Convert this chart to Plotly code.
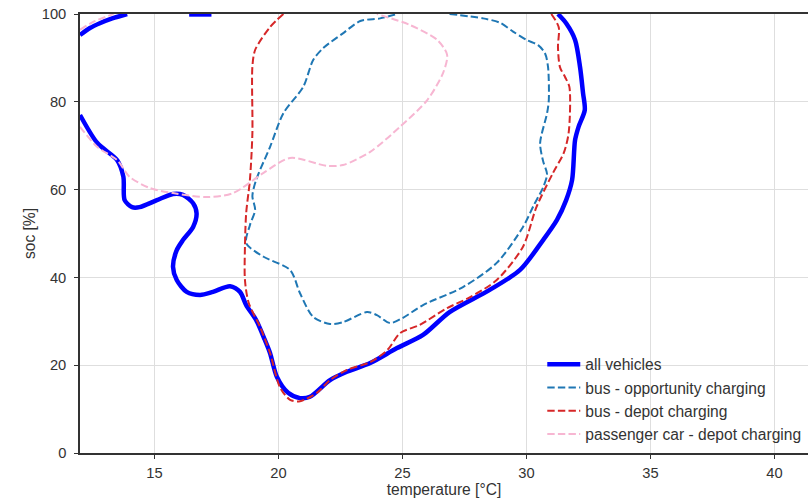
import plotly.graph_objects as go

# Contour outlines of the state-of-charge vs. temperature distributions
# (None separates disconnected pieces of the same contour)
all_vehicles_temp = [12.0, 12.4, 12.8, 13.3, 13.9, None,
                     16.4, 17.3, None,
                     12.0, 12.7, 13.5, 13.75, 13.8, 14.1, 14.4, 15.1, 15.75, 16.15,
                     16.56, 16.7, 16.56, 16.15, 15.9, 15.75, 15.9, 16.3, 16.84, 17.36,
                     18.05, 18.45, 18.7, 19.1, 19.45, 19.66, 19.94, 20.39, 20.87, 21.27,
                     22.08, 22.76, 23.7, 24.78, 25.83, 26.9, 28.5, 29.74, 30.67, 31.23,
                     31.6, 31.84, 31.96, 32.1, 32.35, 32.28, 32.16, 31.96, 31.6, 31.27]
all_vehicles_soc = [95.2, 96.8, 97.9, 99.0, 100.0, None,
                    99.9, 99.9, None,
                    77.0, 70.6, 66.7, 62.9, 57.6, 56.0, 56.0, 57.6, 59.0, 58.8,
                    56.9, 54.6, 51.5, 48.5, 46.2, 42.4, 39.4, 36.7, 36.0, 36.7,
                    38.0, 36.7, 33.7, 30.3, 25.8, 22.8, 17.3, 13.7, 12.5, 12.8,
                    16.6, 18.5, 20.5, 23.9, 26.9, 32.1, 37.1, 41.7, 48.5, 53.1,
                    57.6, 62.2, 71.3, 74.3, 78.1, 82.0, 87.9, 94.1, 97.9, 100.0]

bus_opportunity_temp = [26.9, 28.25, 28.94, 29.46, 30.0, 30.47, 30.75, 30.87, 30.9, 30.83,
                        30.55, 30.67, 30.83, 30.67, 30.3, 29.86, 28.8, 27.44, 25.83, 25.02,
                        24.5, 23.97, 23.57, 22.6, 22.08, 21.4, 20.87, 20.47, 19.4, 18.7,
                        18.85, 19.06, 18.95, 19.1, 19.66, 20.2, 21.0, 21.4, 21.8, 22.6,
                        23.3, 24.1, 24.78]
bus_opportunity_soc = [100.0, 99.0, 98.0, 96.0, 94.1, 92.9, 91.0, 87.9, 80.4, 77.4,
                       70.6, 66.5, 63.5, 60.5, 56.5, 51.5, 43.3, 37.8, 33.7, 30.8,
                       29.6, 31.4, 32.1, 29.8, 29.4, 31.0, 36.4, 41.7, 44.7, 47.8,
                       51.9, 55.4, 58.5, 62.2, 69.7, 77.4, 83.4, 89.5, 92.2, 95.6,
                       98.4, 99.0, 100.0]

bus_depot_temp = [20.2, 19.66, 19.06, 18.95, 18.95, 18.85, 18.7, 18.65, 18.65, 18.8,
                  19.26, 19.66, 20.06, 20.47, 20.87, 21.55, 22.08, 22.76, 23.7, 24.4,
                  24.9, 25.7, 26.8, 27.73, 28.8, 29.86, 30.4, 31.07, 31.5, 31.7,
                  31.73, 31.56, 31.35, 31.27, 31.3, 31.0]
bus_depot_soc = [100.0, 97.0, 91.8, 88.0, 72.9, 62.2, 54.7, 47.0, 39.4, 34.2,
                 28.7, 22.8, 15.0, 12.1, 11.8, 13.7, 16.6, 18.9, 20.7, 23.5,
                 27.3, 29.2, 33.0, 35.5, 39.4, 47.0, 56.0, 63.8, 68.3, 72.9,
                 83.4, 85.6, 87.9, 92.5, 97.0, 100.0]

car_depot_temp = [12.0, 12.53, 13.35, None,
                  12.0, 12.7, 13.5, 14.0, 14.8, 15.75, 17.1, 18.17, 19.4, 20.47,
                  21.96, 22.6, 23.7, 24.9, 26.0, 26.64, 26.8, 26.4, 25.3, 23.97]
car_depot_soc = [96.4, 98.2, 100.0, None,
                 74.3, 69.7, 66.7, 62.9, 60.4, 59.2, 58.3, 59.2, 63.8, 67.2,
                 65.4, 65.6, 68.6, 74.3, 80.4, 86.6, 90.7, 94.1, 97.5, 100.0]

x_ticks = [15, 20, 25, 30, 35, 40]
y_ticks = [0, 20, 40, 60, 80, 100]

FONT = "Liberation Sans, Arial, sans-serif"
TEXT = "#333333"
DASH = "7.4px,3.2px"

fig = go.Figure()
fig.add_trace(go.Scatter(x=all_vehicles_temp, y=all_vehicles_soc, mode="lines",
                         name="all vehicles", connectgaps=False,
                         line=dict(color="#0000ff", width=4.5, shape="spline", smoothing=0.8)))
fig.add_trace(go.Scatter(x=bus_opportunity_temp, y=bus_opportunity_soc, mode="lines",
                         name="bus - opportunity charging",
                         line=dict(color="#1f77b4", width=2, dash=DASH, shape="spline", smoothing=0.8)))
fig.add_trace(go.Scatter(x=bus_depot_temp, y=bus_depot_soc, mode="lines",
                         name="bus - depot charging",
                         line=dict(color="#d62728", width=2, dash=DASH, shape="spline", smoothing=0.8)))
fig.add_trace(go.Scatter(x=car_depot_temp, y=car_depot_soc, mode="lines",
                         name="passenger car - depot charging", connectgaps=False,
                         line=dict(color="#f7b6d2", width=2, dash=DASH, shape="spline", smoothing=0.8)))

fig.update_layout(
    width=808, height=499,
    margin=dict(l=80, r=0, t=14, b=46),
    plot_bgcolor="white", paper_bgcolor="white",
    font=dict(family=FONT, size=14.7, color=TEXT),
    showlegend=True,
    legend=dict(x=0.635, y=0.24, xanchor="left", yanchor="top",
                bgcolor="rgba(255,255,255,0)", borderwidth=0,
                font=dict(family=FONT, size=15.6, color=TEXT),
                itemwidth=33, tracegroupgap=0),
)
fig.update_xaxes(range=[12, 41.35], tickvals=x_ticks, ticks="outside", ticklen=4,
                 tickcolor=TEXT, showline=True, linecolor=TEXT, linewidth=1.5,
                 mirror=True, showgrid=True, gridcolor="#dedede", gridwidth=1,
                 zeroline=False, ticklabelstandoff=2,
                 tickfont=dict(size=14.7),
                 title=dict(text="temperature [°C]", standoff=4, font=dict(size=15.6)))
fig.update_yaxes(range=[0, 100], tickvals=y_ticks, ticks="outside", ticklen=4,
                 tickcolor=TEXT, showline=True, linecolor=TEXT, linewidth=1.5,
                 showgrid=True, gridcolor="#dedede", gridwidth=1,
                 zeroline=False, ticklabelstandoff=5,
                 tickfont=dict(size=14.7),
                 title=dict(text="soc [%]", standoff=2, font=dict(size=15.6)))

fig.write_html("out.html")
